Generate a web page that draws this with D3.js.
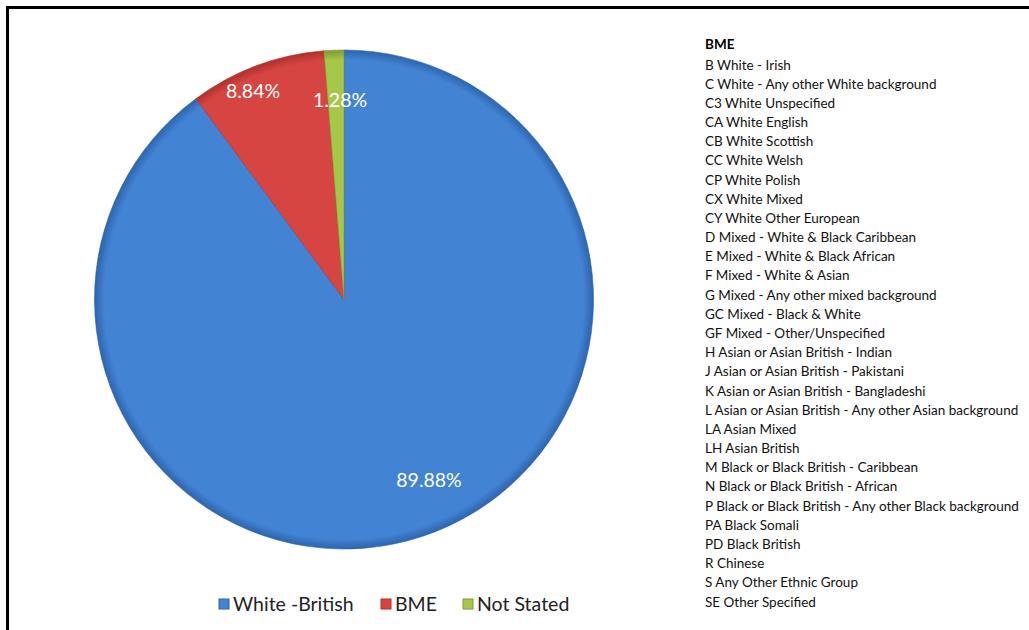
<!DOCTYPE html>
<html>
<head>
<meta charset="utf-8">
<script src="https://cdn.jsdelivr.net/npm/d3@7"></script>
<style>
  body { margin: 0; background: #fff; }
  svg { display: block; font-family: Lato, "Open Sans", sans-serif; }
</style>
</head>
<body>
<svg id="chart" width="1029" height="630"></svg>
<script>
// Ethnicity pie with BME notes

var categories = ["White -British", "BME", "Not Stated"]
  , values = [89.88, 8.84, 1.28]
  , colors = ["#4383d4", "#d64541", "#a5c74a"]
  , edges = ["#2e64ad", "#b0302d", "#7f9a33"]
  , bmeTitle = "BME"
  , bmeGroups = [
      "B White - Irish",
      "C White - Any other White background",
      "C3 White Unspecified",
      "CA White English",
      "CB White Scottish",
      "CC White Welsh",
      "CP White Polish",
      "CX White Mixed",
      "CY White Other European",
      "D Mixed - White & Black Caribbean",
      "E Mixed - White & Black African",
      "F Mixed - White & Asian",
      "G Mixed - Any other mixed background",
      "GC Mixed - Black & White",
      "GF Mixed - Other/Unspecified",
      "H Asian or Asian British - Indian",
      "J Asian or Asian British - Pakistani",
      "K Asian or Asian British - Bangladeshi",
      "L Asian or Asian British - Any other Asian background",
      "LA Asian Mixed",
      "LH Asian British",
      "M Black or Black British - Caribbean",
      "N Black or Black British - African",
      "P Black or Black British - Any other Black background",
      "PA Black Somali",
      "PD Black British",
      "R Chinese",
      "S Any Other Ethnic Group",
      "SE Other Specified"
    ]
  ;

var svg = d3.select("#chart")
  , cx = 344, cy = 299.5, radius = 249.5
  ;

// Frame
svg.append("rect")
   .attr("x", 7.5).attr("y", 7.5)
   .attr("width", 1040).attr("height", 640)
   .attr("fill", "none")
   .attr("stroke", "#000")
   .attr("stroke-width", 3);

// Gradients to fake the bevel look (coords are relative to the pie group)
var defs = svg.append("defs");
colors.forEach(function (c, i) {
  var gr = defs.append("radialGradient")
               .attr("id", "grad" + i)
               .attr("gradientUnits", "userSpaceOnUse")
               .attr("cx", 0).attr("cy", 0).attr("r", radius);
  gr.append("stop").attr("offset", "0%").attr("stop-color", c);
  gr.append("stop").attr("offset", "96%").attr("stop-color", c);
  gr.append("stop").attr("offset", "100%").attr("stop-color", edges[i]);
});

var pie = d3.pie().sort(null).value(function (d) { return d; });
var arcs = pie(values);
var arc = d3.arc().innerRadius(0).outerRadius(radius);

var g = svg.append("g").attr("transform", "translate(" + cx + "," + cy + ")");

g.selectAll("path.slice")
 .data(arcs)
 .enter().append("path")
 .attr("class", "slice")
 .attr("d", arc)
 .attr("fill", function (d, i) { return "url(#grad" + i + ")"; })
 .attr("stroke", function (d, i) { return edges[i]; })
 .attr("stroke-width", 1)
 .attr("stroke-opacity", 0.6);

// Data labels (Excel placed them by hand, so nudge them)
var labelOffsets = [[85, 181], [-91, -208], [-4, -199]];
g.selectAll("text.pct")
 .data(arcs)
 .enter().append("text")
 .attr("class", "pct")
 .attr("transform", function (d, i) { return "translate(" + labelOffsets[i] + ")"; })
 .attr("text-anchor", "middle")
 .attr("dy", "0.35em")
 .attr("fill", "#fff")
 .attr("font-size", 19.5)
 .text(function (d) { return d.value.toFixed(2) + "%"; });

// Bottom legend
var legendX = [219, 381, 463];
var leg = svg.append("g").selectAll("g")
  .data(categories)
  .enter().append("g")
  .attr("transform", function (d, i) { return "translate(" + legendX[i] + ",599)"; });
leg.append("rect")
   .attr("width", 10).attr("height", 10)
   .attr("fill", function (d, i) { return colors[i]; })
   .attr("stroke", function (d, i) { return edges[i]; });
leg.append("text")
   .attr("x", 14).attr("y", 5)
   .attr("dy", "0.35em")
   .attr("font-size", 19.5)
   .attr("fill", "#222")
   .text(function (d) { return d; });

// BME breakdown text
var notes = svg.append("g").attr("transform", "translate(705,0)");
notes.append("text")
     .attr("y", 49)
     .attr("font-size", 13.5)
     .attr("font-weight", "bold")
     .text(bmeTitle);
notes.selectAll("text.item")
     .data(bmeGroups)
     .enter().append("text")
     .attr("class", "item")
     .attr("y", function (d, i) { return 69.5 + i * 19.18; })
     .attr("font-size", 13.5)
     .attr("fill", "#111")
     .text(function (d) { return d; });
</script>
</body>
</html>
